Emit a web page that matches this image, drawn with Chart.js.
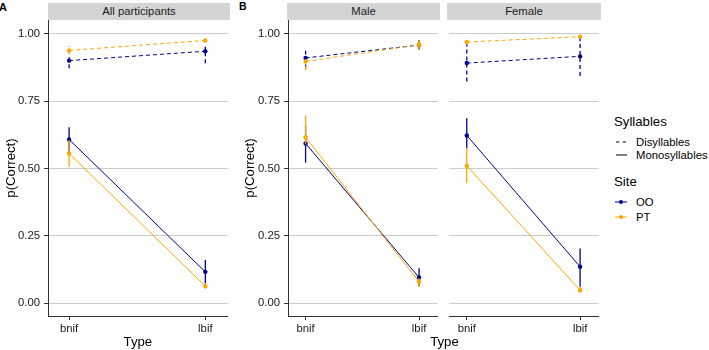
<!DOCTYPE html>
<html><head><meta charset="utf-8">
<script src="https://cdn.jsdelivr.net/npm/chart.js@4.4.0/dist/chart.umd.min.js"></script>
<style>
body{margin:0;background:#fff;width:709px;height:350px;position:relative;overflow:hidden;font-family:"Liberation Sans",Arial,sans-serif;}
canvas{position:absolute;top:0;}
.strip{position:absolute;top:3px;height:17px;background:#d4d4d4;color:#1a1a1a;font-size:11.3px;line-height:17px;text-align:center;}
.t{position:absolute;white-space:nowrap;color:#000;line-height:14px;}
.lt{font-size:13.2px;}
.ll{font-size:11.3px;}
svg{position:absolute;}
</style></head><body>
<div class="t" style="left:-1px;top:0px;font-weight:bold;font-size:11px;">A</div>
<div class="t" style="left:239px;top:-1px;font-weight:bold;font-size:10.5px;">B</div>
<div class="strip" style="left:48px;width:182px;">All participants</div>
<div class="strip" style="left:287px;width:153px;">Male</div>
<div class="strip" style="left:447px;width:154px;">Female</div>
<canvas id="cA" width="230" height="350" style="left:0;width:230px;height:350px"></canvas>
<canvas id="cM" width="210" height="350" style="left:230px;width:210px;height:350px"></canvas>
<canvas id="cF" width="154" height="350" style="left:447px;width:154px;height:350px"></canvas>
<div class="t lt" style="left:404px;width:81px;text-align:center;top:335px;">Type</div>

<div class="t lt" style="left:614px;top:115px;">Syllables</div>
<svg style="left:614px;top:136px" width="16" height="12"><line x1="2" y1="6" x2="5.3" y2="6" stroke="#000" stroke-width="1"/><line x1="8.7" y1="6" x2="12" y2="6" stroke="#000" stroke-width="1"/></svg>
<div class="t ll" style="left:636px;top:135px;">Disyllables</div>
<svg style="left:614px;top:149px" width="16" height="12"><line x1="2" y1="6" x2="13" y2="6" stroke="#000" stroke-width="1"/></svg>
<div class="t ll" style="left:636px;top:148px;">Monosyllables</div>
<div class="t lt" style="left:614px;top:175px;">Site</div>
<svg style="left:614px;top:196px" width="16" height="12"><line x1="1" y1="6" x2="13" y2="6" stroke="#00008b" stroke-width="1"/><circle cx="7" cy="6" r="2" fill="#00008b"/></svg>
<div class="t ll" style="left:636px;top:195px;">OO</div>
<svg style="left:614px;top:211px" width="16" height="12"><line x1="1" y1="6" x2="13" y2="6" stroke="#ffa500" stroke-width="1"/><circle cx="7" cy="6" r="2" fill="#ffa500"/></svg>
<div class="t ll" style="left:636px;top:210px;">PT</div>

<script>
// ---- data ----
const types = ['bnif', 'lbif'];
const yTicks = [0, 0.25, 0.5, 0.75, 1];
const seriesSite = ['OO', 'PT', 'OO', 'PT'];
const seriesSyllables = ['Disyllables', 'Disyllables', 'Monosyllables', 'Monosyllables'];

// rows follow seriesSite/seriesSyllables; columns follow types
const allMean  = [[0.901, 0.936], [0.939, 0.976], [0.608, 0.116], [0.556, 0.063]];
const allLow   = [[0.873, 0.891], [0.926, 0.969], [0.562, 0.073], [0.507, 0.053]];
const allHigh  = [[0.925, 0.953], [0.955, 0.984], [0.653, 0.160], [0.606, 0.073]];

const maleMean = [[0.911, 0.959], [0.898, 0.960], [0.593, 0.095], [0.616, 0.079]];
const maleLow  = [[0.872, 0.941], [0.866, 0.941], [0.522, 0.063], [0.590, 0.061]];
const maleHigh = [[0.938, 0.978], [0.916, 0.978], [0.660, 0.129], [0.697, 0.092]];

const femaleMean = [[0.892, 0.917], [0.970, 0.990], [0.623, 0.135], [0.510, 0.048]];
const femaleLow  = [[0.823, 0.844], [0.960, 0.984], [0.575, 0.061], [0.445, 0.038]];
const femaleHigh = [[0.973, 0.993], [0.980, 0.996], [0.687, 0.203], [0.575, 0.061]];

// ---- styling ----
const siteColor = {OO: '#00008b', PT: '#ffa500'};
const syllDash = {Disyllables: [4, 3], Monosyllables: []};
const FONT = '"Liberation Sans", Arial, sans-serif';

function buildDatasets(mean, low, high) {
  const ds = [];
  // draw order: PT over OO (lower 'order' drawn on top)
  mean.forEach((row, i) => {
    const col = siteColor[seriesSite[i]];
    const dash = syllDash[seriesSyllables[i]];
    const ord = seriesSite[i] === 'PT' ? 1 : 3;
    types.forEach((t, j) => {
      ds.push({
        data: [{x: j + 1, y: low[i][j]}, {x: j + 1, y: high[i][j]}],
        borderColor: col, borderWidth: 1.3, borderDash: dash,
        pointRadius: 0, order: ord + 1, clip: false
      });
    });
    ds.push({
      data: row.map((v, j) => ({x: j + 1, y: v})),
      borderColor: col, backgroundColor: col, borderWidth: 1, borderDash: dash,
      pointRadius: 2.2, pointBorderWidth: 0, pointHoverRadius: 2.2, order: ord, clip: false
    });
  });
  return ds;
}

function makePanel(id, mean, low, high, o) {
  new Chart(document.getElementById(id), {
    type: 'line',
    data: {datasets: buildDatasets(mean, low, high)},
    options: {
      responsive: false, animation: false, events: [],
      layout: {padding: {top: 20, left: 0, right: 0, bottom: 0}},
      plugins: {legend: {display: false}, tooltip: {enabled: false}},
      scales: {
        x: {
          type: 'linear', min: 0.845, max: 2.165,
          afterBuildTicks: s => { s.ticks = types.map((_, i) => ({value: i + 1})); },
          afterFit: s => { s.height = 34; },
          ticks: {autoSkip: false, padding: 2, color: '#1a1a1a', font: {family: FONT, size: 11.3},
                  callback: v => types[v - 1] ?? ''},
          grid: {drawOnChartArea: false, drawTicks: true, tickLength: 4, tickColor: '#333', tickWidth: 1},
          border: {display: true, color: '#333', width: 1},
          title: {display: o.xTitle, text: 'Type', color: '#000', font: {family: FONT, size: 13.2},
                  padding: {top: 0, bottom: 0}}
        },
        y: {
          type: 'linear', min: -0.048, max: 1.052,
          afterBuildTicks: s => { s.ticks = yTicks.map(v => ({value: v})); },
          afterFit: s => { s.width = o.yWidth; },
          ticks: {display: o.yLabels, padding: 4, color: '#1a1a1a', font: {family: FONT, size: 11.3},
                  callback: v => v.toFixed(2)},
          grid: {color: '#cccccc', lineWidth: 1, drawTicks: o.yLabels, tickLength: 4, tickColor: '#333', tickWidth: 1},
          border: {display: o.yLabels, color: '#333', width: 1},
          title: {display: o.yLabels, text: 'p(Correct)', color: '#000', font: {family: FONT, size: 13.2},
                  padding: {top: o.yTitlePad, bottom: 0}}
        }
      }
    }
  });
}

makePanel('cA', allMean, allLow, allHigh, {xTitle: true, yLabels: true, yWidth: 48, yTitlePad: 3});
makePanel('cM', maleMean, maleLow, maleHigh, {xTitle: false, yLabels: true, yWidth: 58, yTitlePad: 12});
makePanel('cF', femaleMean, femaleLow, femaleHigh, {xTitle: false, yLabels: false, yWidth: 0, yTitlePad: 0});
</script>
</body></html>
